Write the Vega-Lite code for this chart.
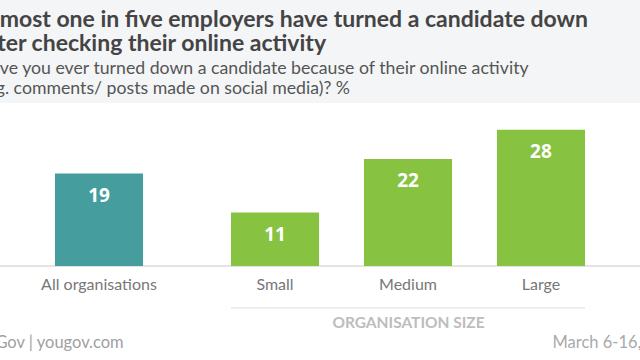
{
  "$schema": "https://vega.github.io/schema/vega-lite/v6.json",
  "width": 640,
  "height": 257,
  "autosize": {"type": "none"},
  "padding": {"left": 0, "top": 103, "right": 0, "bottom": 0},
  "background": "#f4f5f7",
  "view": {"fill": "white", "stroke": null},
  "config": {"font": "Lato"},
  "title": {
    "text": ["Almost one in five employers have turned a candidate down", "after checking their online activity"],
    "subtitle": ["Have you ever turned down a candidate because of their online activity", "(e.g. comments/ posts made on social media)? %"],
    "anchor": "start",
    "frame": "group",
    "dx": -22,
    "offset": 5,
    "font": "Lato",
    "fontSize": 23,
    "fontWeight": "bold",
    "color": "#444444",
    "lineHeight": 24,
    "subtitleFont": "Lato",
    "subtitleFontSize": 17.7,
    "subtitleFontWeight": "normal",
    "subtitleColor": "#555555",
    "subtitleLineHeight": 20,
    "subtitlePadding": 4
  },
  "data": {
    "values": [
      {"org": "All organisations", "group": "all", "value": 19},
      {"org": "Small", "group": "size", "value": 11},
      {"org": "Medium", "group": "size", "value": 22},
      {"org": "Large", "group": "size", "value": 28}
    ]
  },
  "layer": [
    {
      "mark": {"type": "rule", "color": "#e2e2e2", "strokeWidth": 1},
      "encoding": {
        "y": {"datum": 0, "type": "quantitative", "scale": {"domain": [-19.3, 33.5], "nice": false, "zero": false},
          "axis": {"orient": "left", "domain": false, "ticks": false, "labels": false, "grid": false, "title": "March 6-16, 2017", "titleAngle": 0, "titleAlign": "left", "titleBaseline": "middle", "titleX": 552, "titleY": 239, "titleFont": "Lato", "titleFontSize": 16.5, "titleFontWeight": "normal", "titleColor": "#aaaaaa"}}
      }
    },
    {
      "transform": [{"filter": "datum.group === 'all'"}],
      "encoding": {
        "x": {"field": "org", "type": "nominal", "sort": null,
          "scale": {"paddingInner": 0.681, "paddingOuter": 1, "align": 0.0996},
          "axis": {"orient": "bottom", "offset": -94, "domain": false, "ticks": false, "labelAngle": 0, "labelPadding": 10, "labelFont": "Lato", "labelFontSize": 16, "labelColor": "#777777", "title": "YouGov | yougov.com", "titleAnchor": "start", "titleAlign": "left", "titleBaseline": "middle", "titleX": -32, "titleY": 76, "titleFont": "Lato", "titleFontSize": 16.5, "titleFontWeight": "normal", "titleColor": "#a0a0a0"}}
      },
      "layer": [
        {
          "mark": {"type": "bar", "color": "#459e9d"},
          "encoding": {
            "y": {"field": "value", "type": "quantitative",
              "axis": {"orient": "left", "domain": false, "ticks": false, "labels": false, "grid": false, "title": "March 6-16, 2017", "titleAngle": 0, "titleAlign": "left", "titleBaseline": "middle", "titleX": 552, "titleY": 239, "titleFont": "Lato", "titleFontSize": 16.5, "titleFontWeight": "normal", "titleColor": "#aaaaaa"}},
            "y2": {"datum": 0}
          }
        },
        {
          "mark": {"type": "text", "color": "white", "font": "Open Sans", "fontWeight": "bold", "fontSize": 19, "baseline": "middle", "dy": 22},
          "encoding": {
            "y": {"field": "value", "type": "quantitative",
              "axis": {"orient": "left", "domain": false, "ticks": false, "labels": false, "grid": false, "title": "March 6-16, 2017", "titleAngle": 0, "titleAlign": "left", "titleBaseline": "middle", "titleX": 552, "titleY": 239, "titleFont": "Lato", "titleFontSize": 16.5, "titleFontWeight": "normal", "titleColor": "#aaaaaa"}},
            "text": {"field": "value", "type": "quantitative"}
          }
        }
      ]
    },
    {
      "transform": [{"filter": "datum.group === 'size'"}],
      "encoding": {
        "x": {"field": "org", "type": "nominal", "sort": null,
          "scale": {"range": [231, 585], "paddingInner": 0.338, "paddingOuter": 0},
          "axis": {"orient": "bottom", "offset": -94, "domain": false, "ticks": false, "labelAngle": 0, "labelPadding": 10, "labelFont": "Lato", "labelFontSize": 16, "labelColor": "#777777", "title": "ORGANISATION SIZE", "titleAlign": "center", "titleBaseline": "middle", "titleX": 408, "titleY": 56, "titleFont": "Lato", "titleFontSize": 15.5, "titleFontWeight": "bold", "titleColor": "#bdbdbd"}}
      },
      "layer": [
        {
          "mark": {"type": "bar", "color": "#88c241"},
          "encoding": {
            "y": {"field": "value", "type": "quantitative",
              "axis": {"orient": "left", "domain": false, "ticks": false, "labels": false, "grid": false, "title": "March 6-16, 2017", "titleAngle": 0, "titleAlign": "left", "titleBaseline": "middle", "titleX": 552, "titleY": 239, "titleFont": "Lato", "titleFontSize": 16.5, "titleFontWeight": "normal", "titleColor": "#aaaaaa"}},
            "y2": {"datum": 0}
          }
        },
        {
          "mark": {"type": "text", "color": "white", "font": "Open Sans", "fontWeight": "bold", "fontSize": 19, "baseline": "middle", "dy": 22},
          "encoding": {
            "y": {"field": "value", "type": "quantitative",
              "axis": {"orient": "left", "domain": false, "ticks": false, "labels": false, "grid": false, "title": "March 6-16, 2017", "titleAngle": 0, "titleAlign": "left", "titleBaseline": "middle", "titleX": 552, "titleY": 239, "titleFont": "Lato", "titleFontSize": 16.5, "titleFontWeight": "normal", "titleColor": "#aaaaaa"}},
            "text": {"field": "value", "type": "quantitative"}
          }
        },
        {
          "transform": [{"aggregate": [{"op": "count", "as": "n"}]}],
          "mark": {"type": "rule", "color": "#dddddd", "strokeWidth": 1},
          "encoding": {
            "x": {"datum": "Small", "bandPosition": 0},
            "x2": {"datum": "Large", "bandPosition": 1},
            "y": {"datum": -8.6, "type": "quantitative",
              "axis": {"orient": "left", "domain": false, "ticks": false, "labels": false, "grid": false, "title": "March 6-16, 2017", "titleAngle": 0, "titleAlign": "left", "titleBaseline": "middle", "titleX": 552, "titleY": 239, "titleFont": "Lato", "titleFontSize": 16.5, "titleFontWeight": "normal", "titleColor": "#aaaaaa"}}
          }
        }
      ]
    }
  ],
  "resolve": {"scale": {"x": "independent"}, "axis": {"x": "independent"}}
}
